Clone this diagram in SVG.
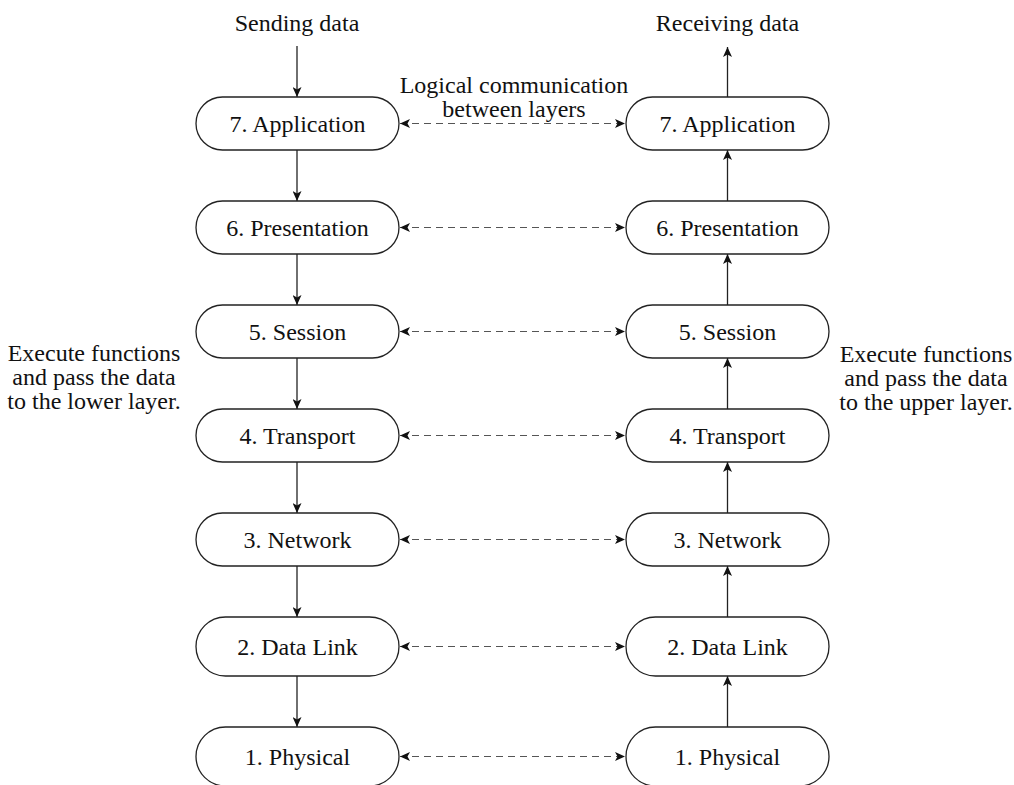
<svg xmlns="http://www.w3.org/2000/svg" width="1014" height="785" viewBox="0 0 1014 785">
<defs>
<style>
.node rect{fill:#fff;stroke:#222;stroke-width:1.3}
text{font-family:"Liberation Serif","Times New Roman",serif;font-size:24px;fill:#111}
.c{text-anchor:middle}
.solid{stroke:#222;stroke-width:1.3;fill:none}
.dash{stroke:#555;stroke-width:1.1;stroke-dasharray:7 5;fill:none}
</style>
<marker id="ah" viewBox="0 0 10 9" refX="10" refY="4.5" markerWidth="10" markerHeight="9" markerUnits="userSpaceOnUse" orient="auto-start-reverse">
<path d="M0,0 L10,4.5 L0,9 L2.5,4.5 z" fill="#111"/>
</marker>
</defs>
<rect width="1014" height="785" fill="#fff"/>

<g id="labels">
<text class="c" x="297" y="31">Sending data</text>
<text class="c" x="727.5" y="31">Receiving data</text>
<text class="c" x="514" y="93">Logical communication</text>
<text class="c" x="514" y="117">between layers</text>
<text class="c" x="94" y="361">Execute functions</text>
<text class="c" x="94" y="385">and pass the data</text>
<text class="c" x="94" y="409">to the lower layer.</text>
<text class="c" x="926" y="362">Execute functions</text>
<text class="c" x="926" y="386">and pass the data</text>
<text class="c" x="926" y="410">to the upper layer.</text>
</g>

<g id="connectors">
<line class="solid" x1="297" y1="46" x2="297" y2="97" marker-end="url(#ah)"/>
<line class="solid" x1="297" y1="150" x2="297" y2="201" marker-end="url(#ah)"/>
<line class="solid" x1="297" y1="254" x2="297" y2="305" marker-end="url(#ah)"/>
<line class="solid" x1="297" y1="358" x2="297" y2="409" marker-end="url(#ah)"/>
<line class="solid" x1="297" y1="462" x2="297" y2="513" marker-end="url(#ah)"/>
<line class="solid" x1="297" y1="566" x2="297" y2="617" marker-end="url(#ah)"/>
<line class="solid" x1="297" y1="676" x2="297" y2="727" marker-end="url(#ah)"/>

<line class="solid" x1="727.5" y1="97" x2="727.5" y2="47" marker-end="url(#ah)"/>
<line class="solid" x1="727.5" y1="201" x2="727.5" y2="150" marker-end="url(#ah)"/>
<line class="solid" x1="727.5" y1="305" x2="727.5" y2="254" marker-end="url(#ah)"/>
<line class="solid" x1="727.5" y1="409" x2="727.5" y2="358" marker-end="url(#ah)"/>
<line class="solid" x1="727.5" y1="513" x2="727.5" y2="462" marker-end="url(#ah)"/>
<line class="solid" x1="727.5" y1="617" x2="727.5" y2="566" marker-end="url(#ah)"/>
<line class="solid" x1="727.5" y1="727" x2="727.5" y2="676" marker-end="url(#ah)"/>

<line class="dash" x1="400" y1="123.5" x2="625" y2="123.5" marker-start="url(#ah)" marker-end="url(#ah)"/>
<line class="dash" x1="400" y1="227.5" x2="625" y2="227.5" marker-start="url(#ah)" marker-end="url(#ah)"/>
<line class="dash" x1="400" y1="331.5" x2="625" y2="331.5" marker-start="url(#ah)" marker-end="url(#ah)"/>
<line class="dash" x1="400" y1="435.5" x2="625" y2="435.5" marker-start="url(#ah)" marker-end="url(#ah)"/>
<line class="dash" x1="400" y1="539.5" x2="625" y2="539.5" marker-start="url(#ah)" marker-end="url(#ah)"/>
<line class="dash" x1="400" y1="646.5" x2="625" y2="646.5" marker-start="url(#ah)" marker-end="url(#ah)"/>
<line class="dash" x1="400" y1="756.5" x2="625" y2="756.5" marker-start="url(#ah)" marker-end="url(#ah)"/>
</g>

<g id="L7" class="node"><rect x="196" y="97" width="203" height="53" rx="26.5"/><text class="c" x="297.5" y="131.5">7. Application</text></g>
<g id="L6" class="node"><rect x="196" y="201" width="203" height="53" rx="26.5"/><text class="c" x="297.5" y="235.5">6. Presentation</text></g>
<g id="L5" class="node"><rect x="196" y="305" width="203" height="53" rx="26.5"/><text class="c" x="297.5" y="339.5">5. Session</text></g>
<g id="L4" class="node"><rect x="196" y="409" width="203" height="53" rx="26.5"/><text class="c" x="297.5" y="443.5">4. Transport</text></g>
<g id="L3" class="node"><rect x="196" y="513" width="203" height="53" rx="26.5"/><text class="c" x="297.5" y="547.5">3. Network</text></g>
<g id="L2" class="node"><rect x="196" y="617" width="203" height="59" rx="29.5"/><text class="c" x="297.5" y="654.5">2. Data Link</text></g>
<g id="L1" class="node"><rect x="196" y="727" width="203" height="59" rx="29.5"/><text class="c" x="297.5" y="764.5">1. Physical</text></g>

<g id="R7" class="node"><rect x="626" y="97" width="203" height="53" rx="26.5"/><text class="c" x="727.5" y="131.5">7. Application</text></g>
<g id="R6" class="node"><rect x="626" y="201" width="203" height="53" rx="26.5"/><text class="c" x="727.5" y="235.5">6. Presentation</text></g>
<g id="R5" class="node"><rect x="626" y="305" width="203" height="53" rx="26.5"/><text class="c" x="727.5" y="339.5">5. Session</text></g>
<g id="R4" class="node"><rect x="626" y="409" width="203" height="53" rx="26.5"/><text class="c" x="727.5" y="443.5">4. Transport</text></g>
<g id="R3" class="node"><rect x="626" y="513" width="203" height="53" rx="26.5"/><text class="c" x="727.5" y="547.5">3. Network</text></g>
<g id="R2" class="node"><rect x="626" y="617" width="203" height="59" rx="29.5"/><text class="c" x="727.5" y="654.5">2. Data Link</text></g>
<g id="R1" class="node"><rect x="626" y="727" width="203" height="59" rx="29.5"/><text class="c" x="727.5" y="764.5">1. Physical</text></g>
</svg>
